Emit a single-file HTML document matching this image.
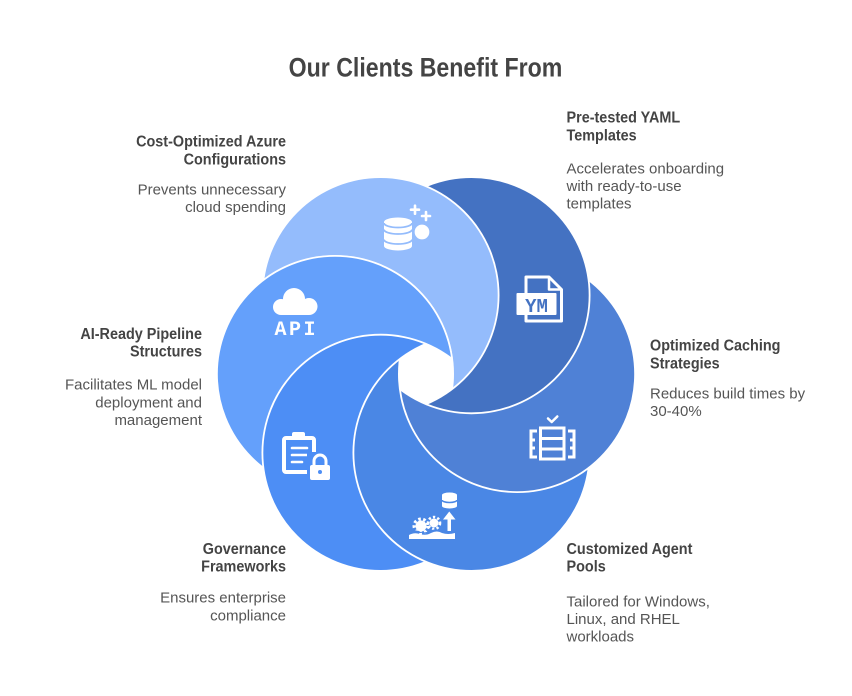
<!DOCTYPE html>
<html><head><meta charset="utf-8"><style>
html,body{margin:0;padding:0;background:#fff;}
svg{display:block;}
.h{font-family:"Liberation Sans",sans-serif;font-weight:bold;font-size:15.5px;fill:#444;}
.d{font-family:"Liberation Sans",sans-serif;font-size:15px;fill:#555;}
</style></head><body>
<svg width="852" height="696" viewBox="0 0 852 696" xmlns="http://www.w3.org/2000/svg">
<defs>
<mask id="m0" maskUnits="userSpaceOnUse" x="0" y="0" width="852" height="696"><rect width="852" height="696" fill="#fff"/><circle cx="335" cy="374" r="119" fill="#000"/></mask>
<mask id="m1" maskUnits="userSpaceOnUse" x="0" y="0" width="852" height="696"><rect width="852" height="696" fill="#fff"/><circle cx="380.5" cy="295.2" r="119" fill="#000"/></mask>
<mask id="m2" maskUnits="userSpaceOnUse" x="0" y="0" width="852" height="696"><rect width="852" height="696" fill="#fff"/><circle cx="471.5" cy="295.2" r="119" fill="#000"/></mask>
<mask id="m3" maskUnits="userSpaceOnUse" x="0" y="0" width="852" height="696"><rect width="852" height="696" fill="#fff"/><circle cx="517" cy="374" r="119" fill="#000"/></mask>
<mask id="m4" maskUnits="userSpaceOnUse" x="0" y="0" width="852" height="696"><rect width="852" height="696" fill="#fff"/><circle cx="471.5" cy="452.8" r="119" fill="#000"/></mask>
<mask id="m5" maskUnits="userSpaceOnUse" x="0" y="0" width="852" height="696"><rect width="852" height="696" fill="#fff"/><circle cx="380.5" cy="452.8" r="119" fill="#000"/></mask>
</defs>

<!-- title -->
<g transform="translate(425.5,76.5) scale(0.857,1)"><text x="0" y="0" text-anchor="middle" font-family="Liberation Sans, sans-serif" font-weight="bold" font-size="27" fill="#444">Our Clients Benefit From</text></g>

<!-- circles: each visible where not covered by the one above it -->
<g stroke="#fff" stroke-width="1.6">
<circle cx="380.5" cy="295.2" r="118" fill="#94bcfc" mask="url(#m0)"/>
<circle cx="471.5" cy="295.2" r="118" fill="#4472c2" mask="url(#m1)"/>
<circle cx="517" cy="374" r="118" fill="#4f81d6" mask="url(#m2)"/>
<circle cx="471.5" cy="452.8" r="118" fill="#4a87e5" mask="url(#m3)"/>
<circle cx="380.5" cy="452.8" r="118" fill="#4d8ef5" mask="url(#m4)"/>
<circle cx="335" cy="374" r="118" fill="#64a0fb" mask="url(#m5)"/>
</g>

<!-- database icon -->
<g>
<path d="M384,222 a14,4.5 0 0 1 28,0 v24 a14,4.5 0 0 1 -28,0 z" fill="#fff"/>
<path d="M384,223 a14,4.5 0 0 0 28,0 M384,229.5 a14,4.5 0 0 0 28,0 M384,239.5 a14,4.5 0 0 0 28,0" stroke="#94bcfc" stroke-width="1.8" fill="none"/>
<circle cx="422" cy="232" r="8.6" fill="#fff" stroke="#94bcfc" stroke-width="2.5"/>
<path d="M411,209.7 h8 M415,205.7 v8 M422,216 h8 M426,212 v8" stroke="#fff" stroke-width="2.6" stroke-linecap="round"/>
</g>

<!-- YAML icon -->
<g>
<path d="M526,277 H549 L561.5,289.5 V321 H526 Z" fill="none" stroke="#fff" stroke-width="3" stroke-linejoin="round"/>
<path d="M549,277 V289.5 H561.5" fill="none" stroke="#fff" stroke-width="2.5" stroke-linejoin="round"/>
<rect x="516.5" y="293" width="40" height="22" rx="1" fill="#fff"/>
<text x="536.5" y="312" text-anchor="middle" font-family="Liberation Mono, monospace" font-weight="bold" font-size="19" fill="#4472c2">YM</text>
</g>

<!-- API icon -->
<g fill="#fff">
<circle cx="294" cy="299" r="11"/>
<circle cx="281" cy="307" r="8"/>
<circle cx="309" cy="306.5" r="8.5"/>
<rect x="281" y="304" width="28" height="11"/>
<text x="295" y="335" text-anchor="middle" font-family="Liberation Mono, monospace" font-weight="bold" font-size="20" textLength="41" lengthAdjust="spacing">API</text>
</g>

<!-- clipboard lock icon -->
<g>
<rect x="284" y="438" width="30" height="34" rx="2" fill="none" stroke="#fff" stroke-width="4"/>
<rect x="292" y="432" width="13" height="7" rx="2" fill="#fff"/>
<path d="M292,448 h15 M292,455 h15 M292,462 h10" stroke="#fff" stroke-width="2.6" stroke-linecap="round"/>
<rect x="307" y="452" width="26" height="31" fill="#4d8ef5"/>
<path d="M314,466 v-5 a6,6 0 0 1 12,0 v5" fill="none" stroke="#fff" stroke-width="3"/>
<rect x="310" y="465" width="20" height="15" rx="2" fill="#fff"/>
<circle cx="320" cy="472" r="2" fill="#4d8ef5"/>
</g>

<!-- server icon -->
<g fill="none" stroke="#fff">
<path d="M548,418.5 L551.7,422 L557.3,416.5" stroke-width="2.5" stroke-linecap="round" stroke-linejoin="round"/>
<rect x="540.5" y="428" width="23.5" height="31" stroke-width="3"/>
<path d="M540.5,438.5 H564 M540.5,449 H564" stroke-width="3"/>
<path d="M537,431 H531 V457 H537 M531,440 h4 M531,448 h4" stroke-width="3"/>
<path d="M568,431 H574 V457 H568 M574,440 h-4 M574,448 h-4" stroke-width="3"/>
</g>

<!-- agent icon -->
<g>
<path d="M442,495 a7.5,2.5 0 0 1 15,0 v11 a7.5,2.5 0 0 1 -15,0 z" fill="#fff"/>
<path d="M442,500 a7.5,2.5 0 0 0 15,0" stroke="#4a87e5" stroke-width="1.5" fill="none"/>
<rect x="447.5" y="517" width="3.5" height="14" fill="#fff"/>
<polygon points="443,519.5 449.25,511.5 455.5,519.5" fill="#fff"/>
<circle cx="421" cy="526" r="5.5" fill="#fff"/>
<circle cx="421" cy="526" r="7" fill="none" stroke="#fff" stroke-width="3" stroke-dasharray="2.6 2.4"/>
<circle cx="434" cy="523" r="4.5" fill="#fff"/>
<circle cx="434" cy="523" r="6" fill="none" stroke="#fff" stroke-width="2.6" stroke-dasharray="2.3 2.2"/>
<path d="M407,531 q6,-2 11,0 q6,3 11,0 q6,-3 11,0 q6,2 16,0 V533 H407 Z" fill="#4a87e5"/>
<path d="M409,539 V535 q5,-3 11,-1 q6,2 11,-1 q6,-3 11,0 q6,2 13,0 V539 Z" fill="#fff"/>
</g>

<!-- left texts -->
<g transform="translate(286,146.7) scale(0.93,1)"><text class="h" text-anchor="end">Cost-Optimized Azure</text></g>
<g transform="translate(286,164.3) scale(0.93,1)"><text class="h" text-anchor="end">Configurations</text></g>
<text class="d" x="286" y="194.3" text-anchor="end">Prevents unnecessary</text>
<text class="d" x="286" y="211.9" text-anchor="end">cloud spending</text>

<g transform="translate(202,339) scale(0.93,1)"><text class="h" text-anchor="end">AI-Ready Pipeline</text></g>
<g transform="translate(202,356.6) scale(0.93,1)"><text class="h" text-anchor="end">Structures</text></g>
<text class="d" x="202" y="389.7" text-anchor="end">Facilitates ML model</text>
<text class="d" x="202" y="407.3" text-anchor="end">deployment and</text>
<text class="d" x="202" y="424.9" text-anchor="end">management</text>

<g transform="translate(286,554) scale(0.93,1)"><text class="h" text-anchor="end">Governance</text></g>
<g transform="translate(286,571.6) scale(0.93,1)"><text class="h" text-anchor="end">Frameworks</text></g>
<text class="d" x="286" y="602.7" text-anchor="end">Ensures enterprise</text>
<text class="d" x="286" y="620.3" text-anchor="end">compliance</text>

<!-- right texts -->
<g transform="translate(566.5,122.7) scale(0.93,1)"><text class="h">Pre-tested YAML</text></g>
<g transform="translate(566.5,140.3) scale(0.93,1)"><text class="h">Templates</text></g>
<text class="d" x="566.5" y="173.3">Accelerates onboarding</text>
<text class="d" x="566.5" y="190.9">with ready-to-use</text>
<text class="d" x="566.5" y="208.5">templates</text>

<g transform="translate(650,350.7) scale(0.93,1)"><text class="h">Optimized Caching</text></g>
<g transform="translate(650,368.3) scale(0.93,1)"><text class="h">Strategies</text></g>
<text class="d" x="650" y="398.3">Reduces build times by</text>
<text class="d" x="650" y="415.9">30-40%</text>

<g transform="translate(566.5,554) scale(0.93,1)"><text class="h">Customized Agent</text></g>
<g transform="translate(566.5,571.6) scale(0.93,1)"><text class="h">Pools</text></g>
<text class="d" x="566.5" y="606.5">Tailored for Windows,</text>
<text class="d" x="566.5" y="624.1">Linux, and RHEL</text>
<text class="d" x="566.5" y="641.7">workloads</text>
</svg>
</body></html>
